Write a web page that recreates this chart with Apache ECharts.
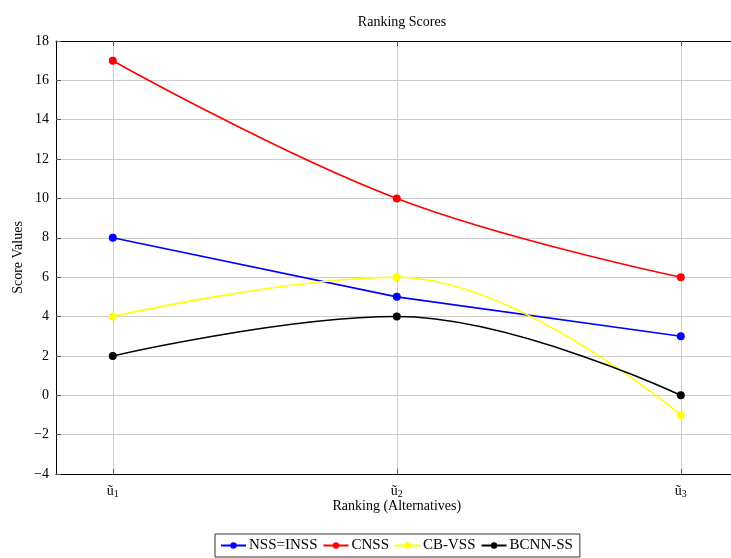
<!DOCTYPE html>
<html>
<head>
<meta charset="utf-8">
<script src="https://cdn.jsdelivr.net/npm/echarts@6/dist/echarts.min.js"></script>
<style>html,body{margin:0;padding:0;background:#fff;}#c{width:731px;height:558px;}</style>
</head>
<body>
<div id="c"></div>
<script>
var xPositions = [1, 2, 3];
var xSubscripts = ['1', '2', '3'];
var yTicks = [-4, -2, 0, 2, 4, 6, 8, 10, 12, 14, 16, 18];
var nssInss = [8, 5, 3];
var cnss = [17, 10, 6];
var cbVss = [4, 6, -1];
var bcnnSs = [2, 4, 0];

var FONT = 'Liberation Serif';
function pairs(vals) { return xPositions.map(function (x, i) { return [x, vals[i]]; }); }
function mkSeries(name, vals, color, smooth) {
  return {
    name: name, type: 'line', data: pairs(vals), smooth: smooth ? 0.4 : false,
    symbol: 'circle', symbolSize: 8,
    lineStyle: { color: color, width: 1.6 },
    itemStyle: { color: color },
    emphasis: { disabled: true }
  };
}
var chart = echarts.init(document.getElementById('c'));
chart.setOption({
  animation: false,
  title: {
    text: 'Ranking Scores', left: 397, top: 10, textAlign: 'center',
    textStyle: { fontFamily: FONT, fontSize: 14, fontWeight: 'normal', color: '#000' }
  },
  grid: { left: 56, top: 41, bottom: 84, right: -6.6, containLabel: false, outerBoundsMode: 'none' },
  legend: {
    left: 215, top: 534,
    data: ['NSS=INSS', 'CNSS', 'CB-VSS', 'BCNN-SS'],
    itemWidth: 25, itemHeight: 8, itemGap: 5,
    padding: [4, 7, 4, 5],
    borderColor: '#333', borderWidth: 1,
    textStyle: { fontFamily: FONT, fontSize: 15, color: '#000', padding: [0, 0, 0, -2] }
  },
  xAxis: [{
    type: 'value', min: 0.8, max: 3.2, position: 'bottom',
    name: 'Ranking (Alternatives)', nameLocation: 'middle', nameGap: 25, nameMoveOverlap: false,
    nameTextStyle: { fontFamily: FONT, fontSize: 14, color: '#000' },
    axisLine: { show: true, onZero: false, lineStyle: { color: '#000', width: 1 } },
    axisTick: { show: true, inside: true, length: 5, customValues: xPositions, lineStyle: { color: '#555' } },
    axisLabel: {
      customValues: xPositions, margin: 9,
      formatter: function (v) { return 'ũ{s|' + xSubscripts[xPositions.indexOf(v)] + '}'; },
      fontFamily: FONT, fontSize: 14, color: '#000',
      rich: { s: { fontFamily: FONT, fontSize: 10, color: '#000', verticalAlign: 'bottom', padding: [6, 0, 0, 0] } }
    },
    splitLine: { show: true, lineStyle: { color: '#cccccc', width: 1 } }
  }, {
    type: 'value', min: 0.8, max: 3.2, position: 'top',
    axisLine: { show: true, onZero: false, lineStyle: { color: '#000', width: 1 } },
    axisTick: { show: true, inside: true, length: 5, customValues: xPositions, lineStyle: { color: '#555' } },
    axisLabel: { show: false },
    splitLine: { show: false }
  }],
  yAxis: {
    type: 'value', min: -4, max: 18, interval: 2,
    name: 'Score Values', nameLocation: 'middle', nameGap: 31, nameMoveOverlap: false,
    nameTextStyle: { fontFamily: FONT, fontSize: 14, color: '#000' },
    axisLine: { show: true, onZero: false, lineStyle: { color: '#000', width: 1 } },
    axisTick: { show: true, inside: true, length: 5, lineStyle: { color: '#555' } },
    axisLabel: {
      margin: 7, fontFamily: FONT, fontSize: 14, color: '#000',
      formatter: function (v) { return v < 0 ? '\u2212' + Math.abs(v) : String(v); }
    },
    splitLine: { show: true, lineStyle: { color: '#cccccc', width: 1 } }
  },
  series: [
    mkSeries('NSS=INSS', nssInss, '#0000ff', false),
    mkSeries('CNSS', cnss, '#ff0000', true),
    mkSeries('CB-VSS', cbVss, '#ffff00', true),
    mkSeries('BCNN-SS', bcnnSs, '#000000', true)
  ]
});
</script>
</body>
</html>
